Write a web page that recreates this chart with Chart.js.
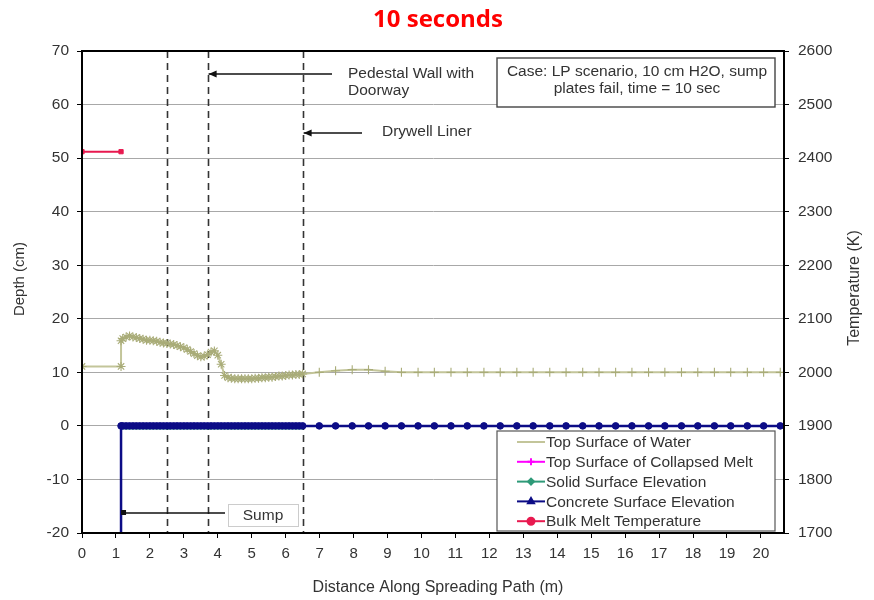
<!DOCTYPE html>
<html>
<head>
<meta charset="utf-8">
<title>10 seconds</title>
<script src="https://cdn.jsdelivr.net/npm/chart.js@4.4.1/dist/chart.umd.min.js"></script>
<style>
    html, body { margin: 0; background: #fff; }
    #wrap { width: 874px; height: 600px; }
</style>
</head>
<body>
<div id="wrap"><canvas id="chart" width="874" height="600"></canvas></div>
<script>
/* ============================================================
   Spreading profile at 10 seconds — depth / temperature
   ============================================================ */

// ── Data ──────────────────────────────────────────────────────
const xTicks = [0, 1, 2, 3, 4, 5, 6, 7, 8, 9, 10, 11, 12, 13, 14, 15, 16, 17, 18, 19, 20];
const depthTicks = [-20, -10, 0, 10, 20, 30, 40, 50, 60, 70];
const tempTicks = [1700, 1800, 1900, 2000, 2100, 2200, 2300, 2400, 2500, 2600];

// nodes inside the pedestal / doorway region (fine mesh)
const denseX = [1.2, 1.3, 1.4, 1.5, 1.6, 1.7, 1.8, 1.9, 2.0, 2.1,
                2.2, 2.3, 2.4, 2.5, 2.6, 2.7, 2.8, 2.9, 3.0, 3.1,
                3.2, 3.3, 3.4, 3.5, 3.6, 3.7, 3.8, 3.9, 4.0, 4.1,
                4.2, 4.3, 4.4, 4.5, 4.6, 4.7, 4.8, 4.9, 5.0, 5.1,
                5.2, 5.3, 5.4, 5.5, 5.6, 5.7, 5.8, 5.9, 6.0, 6.1,
                6.2, 6.3, 6.4, 6.5];
// nodes outside the drywell liner (coarse mesh)
const sparseX = [6.99, 7.47, 7.96, 8.44, 8.93, 9.41, 9.90, 10.38, 10.87, 11.35,
                 11.84, 12.32, 12.81, 13.29, 13.78, 14.26, 14.75, 15.23, 15.72, 16.20,
                 16.69, 17.17, 17.66, 18.14, 18.63, 19.11, 19.60, 20.08, 20.57];

// Top Surface of Water (cm)
const waterSumpX = [0, 1.15, 1.15];
const waterSump = [11.1, 11.1, 15.9];
const waterDense = [16.3, 16.6, 16.8, 16.6, 16.5, 16.3, 16.2, 16.0, 16.0, 15.9,
                    15.8, 15.6, 15.5, 15.4, 15.3, 15.2, 15.0, 14.8, 14.6, 14.3,
                    13.9, 13.5, 13.1, 12.9, 13.0, 13.3, 13.8, 14.0, 13.2, 11.5,
                    9.4, 9.0, 8.9, 8.8, 8.8, 8.8, 8.8, 8.8, 8.8, 8.9,
                    8.9, 9.0, 9.0, 9.1, 9.1, 9.2, 9.3, 9.3, 9.4, 9.5,
                    9.5, 9.6, 9.6, 9.7];
const waterSparse = [10.0, 10.3, 10.5, 10.5, 10.2, 10.0, 10.0, 10.0, 10.0, 10.0,
                     10.0, 10.0, 10.0, 10.0, 10.0, 10.0, 10.0, 10.0, 10.0, 10.0,
                     10.0, 10.0, 10.0, 10.0, 10.0, 10.0, 10.0, 10.0, 10.0];

// Concrete Surface Elevation (cm) — sump wall drops out of view at x = 1.15
const concreteEdgeX = [1.15, 1.15];
const concreteEdge = [-30, 0];
const concreteDense = [0, 0, 0, 0, 0, 0, 0, 0, 0, 0, 0, 0, 0, 0, 0, 0, 0, 0,
                       0, 0, 0, 0, 0, 0, 0, 0, 0, 0, 0, 0, 0, 0, 0, 0, 0, 0,
                       0, 0, 0, 0, 0, 0, 0, 0, 0, 0, 0, 0, 0, 0, 0, 0, 0, 0];
const concreteSparse = [0, 0, 0, 0, 0, 0, 0, 0, 0, 0, 0, 0, 0, 0, 0,
                        0, 0, 0, 0, 0, 0, 0, 0, 0, 0, 0, 0, 0, 0];

// Solid Surface Elevation (cm)
const solidX = [1.15, 6.5];
const solid = [-0.3, -0.3];

// Bulk Melt Temperature (K)
const meltX = [0, 1.15];
const meltTemp = [2412, 2412];

// structure lines (m)
const wallLines = [2.5, 3.7, 6.5];

// ── Helpers ───────────────────────────────────────────────────
const pts = (xs, ys) => xs.map((x, i) => ({ x: x, y: ys[i] }));
const FONT = "'Liberation Sans', Arial, sans-serif";
const TXT = '#333';

const waterData = pts(waterSumpX, waterSump)
    .concat(pts(denseX, waterDense))
    .concat(pts(sparseX, waterSparse));
const concreteData = pts(concreteEdgeX, concreteEdge)
    .concat(pts(denseX, concreteDense))
    .concat(pts(sparseX, concreteSparse));

const datasets = [
    {
        label: 'Top Surface of Water',
        data: waterData,
        borderColor: '#c3c59a', borderWidth: 2,
        // fine-mesh nodes drawn as asterisks, coarse ones as plain ticks
        pointStyle: c => (c.raw && c.raw.x > 6.6 ? 'cross' : 'star'),
        pointRadius: 4.5, pointBorderWidth: 1.1,
        pointBorderColor: '#a9ac78', pointBackgroundColor: '#a9ac78',
        order: 3
    },
    {
        label: 'Top Surface of Collapsed Melt',
        data: [],
        borderColor: '#ff00ff', backgroundColor: '#ff00ff', borderWidth: 2,
        pointStyle: 'cross', pointRadius: 4,
        order: 4
    },
    {
        label: 'Solid Surface Elevation',
        data: pts(solidX, solid),
        borderColor: '#2e9a78', backgroundColor: '#2e9a78', borderWidth: 4,
        pointRadius: 0, pointStyle: 'rectRot',
        order: 2
    },
    {
        label: 'Concrete Surface Elevation',
        data: concreteData,
        borderColor: '#0c0c86', backgroundColor: '#0c0c86', borderWidth: 2.5,
        pointStyle: 'circle', pointRadius: 3.3, pointBorderWidth: 1,
        order: 1
    },
    {
        label: 'Bulk Melt Temperature',
        data: pts(meltX, meltTemp),
        yAxisID: 'y1',
        borderColor: '#e8194f', backgroundColor: '#e8194f', borderWidth: 2,
        pointStyle: 'rect', pointRadius: 3, pointBorderWidth: 1,
        order: 0
    }
];

// ── Annotation plugin: structure lines, boxes, arrows, legend ──
function arrow(ctx, x1, y1, x2, y2) {
    ctx.beginPath();
    ctx.moveTo(x1, y1);
    ctx.lineTo(x2, y2);
    ctx.stroke();
    ctx.beginPath();
    ctx.moveTo(x2, y2);
    ctx.lineTo(x2 + 8, y2 - 3.5);
    ctx.lineTo(x2 + 8, y2 + 3.5);
    ctx.closePath();
    ctx.fill();
}

const annotations = {
    id: 'annotations',
    beforeDatasetsDraw(chart) {
        const { ctx, chartArea: a, scales } = chart;
        ctx.save();
        ctx.strokeStyle = '#333';
        ctx.lineWidth = 1.6;
        ctx.setLineDash([7, 5]);
        wallLines.forEach(v => {
            const px = Math.round(scales.x.getPixelForValue(v)) + 0.5;
            ctx.beginPath();
            ctx.moveTo(px, a.top);
            ctx.lineTo(px, a.bottom);
            ctx.stroke();
        });
        ctx.restore();
    },
    afterDatasetsDraw(chart) {
        const { ctx, chartArea: a, scales } = chart;
        ctx.save();

        // frame
        ctx.strokeStyle = '#000';
        ctx.lineWidth = 2;
        ctx.strokeRect(a.left, a.top, a.right - a.left, a.bottom - a.top);

        // case box
        ctx.fillStyle = '#fff';
        ctx.fillRect(497, 58, 278, 49);
        ctx.strokeStyle = '#444';
        ctx.lineWidth = 1.4;
        ctx.strokeRect(497, 58, 278, 49);
        ctx.fillStyle = TXT;
        ctx.font = '15.5px ' + FONT;
        ctx.textAlign = 'center';
        ctx.textBaseline = 'middle';
        ctx.fillText('Case: LP scenario, 10 cm H2O, sump', 637, 72);
        ctx.fillText('plates fail, time = 10 sec', 637, 89);

        // structure callouts
        ctx.textAlign = 'left';
        ctx.fillText('Pedestal Wall with', 348, 74);
        ctx.fillText('Doorway', 348, 91);
        ctx.fillText('Drywell Liner', 382, 132);
        ctx.strokeStyle = '#111';
        ctx.fillStyle = '#111';
        ctx.lineWidth = 1.3;
        arrow(ctx, 332, 74, scales.x.getPixelForValue(wallLines[1]) + 1, 74);
        arrow(ctx, 362, 133, scales.x.getPixelForValue(wallLines[2]) + 1, 133);

        // sump callout
        const sx = scales.x.getPixelForValue(1.15);
        ctx.beginPath();
        ctx.moveTo(225, 513);
        ctx.lineTo(sx + 2, 513);
        ctx.stroke();
        ctx.fillRect(sx, 510, 5, 5);
        ctx.fillStyle = '#fff';
        ctx.fillRect(228, 504, 70, 22);
        ctx.strokeStyle = '#ccc';
        ctx.lineWidth = 1;
        ctx.strokeRect(228.5, 504.5, 70, 22);
        ctx.fillStyle = TXT;
        ctx.textAlign = 'center';
        ctx.fillText('Sump', 263, 516);

        // legend
        ctx.fillStyle = '#fff';
        ctx.fillRect(497, 431, 278, 100);
        ctx.strokeStyle = '#555';
        ctx.lineWidth = 1.2;
        ctx.strokeRect(497, 431, 278, 100);
        ctx.font = '15.5px ' + FONT;
        ctx.textAlign = 'left';
        datasets.forEach((ds, i) => {
            const y = 442 + i * 19.8;
            const col = ds.pointBorderColor || ds.borderColor;
            ctx.strokeStyle = ds.borderColor;
            ctx.lineWidth = 2;
            ctx.beginPath();
            ctx.moveTo(517, y);
            ctx.lineTo(545, y);
            ctx.stroke();
            if (i > 0) {
                ctx.fillStyle = col;
                ctx.strokeStyle = col;
                Chart.helpers.drawPoint(ctx, {
                    pointStyle: i === 4 ? 'circle' : (i === 3 ? 'triangle' : ds.pointStyle),
                    radius: i === 2 ? 3 : 3.5, rotation: 0, borderWidth: 1.5
                }, 531, y);
            }
            ctx.fillStyle = TXT;
            ctx.fillText(ds.label, 546, y + 1);
        });

        // titles
        ctx.fillStyle = '#ff0000';
        ctx.font = "bold 24px 'Open Sans', Lato, sans-serif";
        ctx.textAlign = 'center';
        ctx.textBaseline = 'alphabetic';
        ctx.fillText('10 seconds', 438, 27);

        ctx.fillStyle = TXT;
        ctx.font = '16px ' + FONT;
        ctx.textBaseline = 'middle';
        ctx.fillText('Distance Along Spreading Path (m)', 438, 588);

        ctx.save();
        ctx.translate(20, 279);
        ctx.rotate(-Math.PI / 2);
        ctx.font = '15px ' + FONT;
        ctx.fillText('Depth (cm)', 0, 0);
        ctx.restore();

        ctx.save();
        ctx.translate(855, 288);
        ctx.rotate(-Math.PI / 2);
        ctx.fillText('Temperature (K)', 0, 0);
        ctx.restore();

        ctx.restore();
    }
};

// ── Chart ─────────────────────────────────────────────────────
const plain = v => String(v);

new Chart(document.getElementById('chart'), {
    type: 'line',
    data: { datasets: datasets },
    plugins: [annotations],
    options: {
        responsive: false,
        animation: false,
        layout: { padding: { top: 51, left: 0, right: 0, bottom: 0 } },
        elements: { line: { tension: 0 } },
        plugins: {
            legend: { display: false },
            tooltip: { enabled: false }
        },
        scales: {
            x: {
                type: 'linear',
                min: 0,
                max: 20.68,
                afterBuildTicks: s => { s.ticks = xTicks.map(v => ({ value: v })); },
                afterFit: s => { s.height = 67; },
                grid: { drawOnChartArea: false, tickLength: 5, tickColor: '#000' },
                border: { color: '#000', width: 2 },
                ticks: { font: { family: FONT, size: 15 }, color: TXT, padding: 7, maxRotation: 0, callback: plain }
            },
            y: {
                min: -20,
                max: 70,
                afterBuildTicks: s => { s.ticks = depthTicks.map(v => ({ value: v })); },
                afterFit: s => { s.width = 82; },
                grid: { color: '#a8a8a8', lineWidth: 1, tickLength: 5, tickColor: '#000' },
                border: { color: '#000', width: 2 },
                ticks: { font: { family: FONT, size: 15.5 }, color: TXT, padding: 8, callback: plain }
            },
            y1: {
                position: 'right',
                min: 1700,
                max: 2600,
                afterBuildTicks: s => { s.ticks = tempTicks.map(v => ({ value: v })); },
                afterFit: s => { s.width = 90; },
                grid: { drawOnChartArea: false, tickLength: 5, tickColor: '#000' },
                border: { color: '#000', width: 2 },
                ticks: { font: { family: FONT, size: 15.5 }, color: TXT, padding: 9, callback: plain }
            }
        }
    }
});
</script>
</body>
</html>
